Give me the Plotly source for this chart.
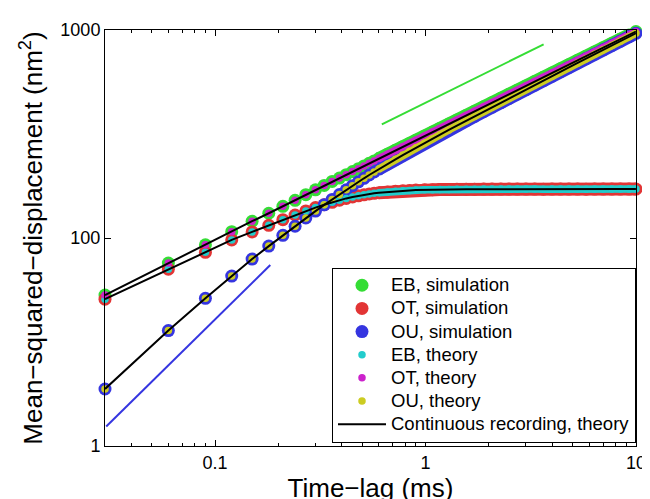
import math
import plotly.graph_objects as go

# ---------------- data ----------------
t_ms = [0.03, 0.06, 0.09, 0.12, 0.15, 0.18, 0.21, 0.24, 0.27, 0.30,
        0.33, 0.36, 0.39, 0.42, 0.45, 0.48, 0.51, 0.54, 0.57, 0.60,
        0.66, 0.72, 0.78, 0.84, 0.90, 0.99, 1.08, 1.17, 1.29, 1.41,
        1.56, 1.71, 1.89, 2.07, 2.28, 2.49, 2.73, 3.00, 3.30, 3.63,
        3.99, 4.38, 4.80, 5.28, 5.79, 6.36, 6.99, 7.68, 8.43, 9.27,
        9.99]

msd_eb = [53.2, 75.8, 92.8, 107.2, 120.4, 131.5, 142.0, 151.8, 161.6, 170.5,
          179.0, 187.0, 194.2, 201.6, 208.6, 215.5, 222.1, 228.5, 234.8, 240.9,
          252.7, 263.9, 274.7, 285.0, 295.0, 309.4, 323.2, 336.4, 353.2, 369.3,
          388.4, 406.7, 427.6, 447.4, 469.6, 490.8, 513.9, 538.7, 565.0, 592.5,
          621.2, 650.9, 681.4, 714.6, 748.3, 784.3, 822.3, 861.9, 903.0, 946.9,
          983.0]

msd_ot = [50.8, 70.8, 85.3, 97.9, 107.0, 115.0, 122.5, 129.0, 135.0, 140.0,
          144.5, 148.5, 152.0, 155.0, 157.5, 159.5, 161.3, 162.8, 164.0, 165.0,
          166.6, 167.8, 168.7, 169.4, 169.9, 170.4, 170.8, 171.1, 171.3, 171.5,
          171.6, 171.7, 171.8, 171.8, 171.9, 171.8, 171.8, 171.9, 171.8, 171.7,
          171.8, 171.9, 171.8, 171.8, 171.7, 171.8, 171.9, 171.8, 171.8, 171.8,
          171.8]

msd_ou = [18.8, 35.9, 51.3, 65.6, 79.2, 91.4, 103.0, 113.9, 124.8, 134.7,
          144.3, 153.3, 161.8, 170.4, 178.4, 186.2, 193.7, 200.9, 207.8, 214.4,
          226.9, 238.8, 250.3, 261.1, 271.4, 286.2, 300.3, 313.9, 331.0, 347.1,
          366.3, 384.7, 405.8, 425.9, 448.0, 469.2, 492.3, 517.2, 543.5, 571.2,
          600.1, 630.1, 661.0, 694.6, 728.1, 764.7, 802.6, 842.9, 884.0, 928.0,
          964.3]

guide_half_t = [0.62, 3.64]      # slope 1/2 guide
guide_half_v = [351.6, 853.0]
guide_one_t = [0.0304, 0.183]    # slope 1 guide
guide_one_v = [12.4, 74.1]

x_tick_vals = [0.1, 1, 10]
x_tick_text = ["0.1", "1", "10"]
x_minor_vals = [0.04, 0.05, 0.06, 0.07, 0.08, 0.09,
                0.2, 0.3, 0.4, 0.5, 0.6, 0.7, 0.8, 0.9,
                2, 3, 4, 5, 6, 7, 8, 9]
y_tick_vals = [10, 100, 1000]
y_tick_text = ["1", "100", "1000"]

# ---------------- styling ----------------
GREEN = "#35dd35"
RED = "#e23535"
BLUE = "#3535e0"
CYAN = "#22cccc"
MAGENTA = "#cc22cc"
YELLOW = "#cccc22"
SIM_SIZE = 13
TH_SIZE = 7.5
BAND_FROM = 19   # from here on the markers merge into a continuous band
FONT = "Liberation Sans, Arial, Helvetica, sans-serif"
LEG_TXT = '<span style="font-size:18.5px">{}</span>'

fig = go.Figure()


def add_markers(t, v, color, size, name):
    # continuous band where the markers overlap completely
    fig.add_trace(go.Scatter(x=t[BAND_FROM:], y=v[BAND_FROM:], mode="lines",
                             line=dict(color=color, width=size),
                             showlegend=False, hoverinfo="skip", cliponaxis=False))
    fig.add_trace(go.Scatter(x=t, y=v, mode="markers",
                             marker=dict(color=color, size=size, line=dict(width=0)),
                             name=LEG_TXT.format(name), cliponaxis=False))


add_markers(t_ms, msd_eb, GREEN, SIM_SIZE, "EB, simulation")
add_markers(t_ms, msd_ot, RED, SIM_SIZE, "OT, simulation")
add_markers(t_ms, msd_ou, BLUE, SIM_SIZE, "OU, simulation")
add_markers(t_ms, msd_ot, CYAN, TH_SIZE, "EB, theory")
add_markers(t_ms, msd_eb, MAGENTA, TH_SIZE, "OT, theory")
add_markers(t_ms, msd_ou, YELLOW, TH_SIZE, "OU, theory")

for i, v in enumerate([msd_eb, msd_ot, msd_ou]):
    fig.add_trace(go.Scatter(x=t_ms, y=v, mode="lines",
                             line=dict(color="black", width=2),
                             name=LEG_TXT.format("Continuous recording, theory"),
                             showlegend=(i == 0), cliponaxis=False))

fig.add_trace(go.Scatter(x=guide_half_t, y=guide_half_v, mode="lines",
                         line=dict(color=GREEN, width=2), showlegend=False))
fig.add_trace(go.Scatter(x=guide_one_t, y=guide_one_v, mode="lines",
                         line=dict(color=BLUE, width=2), showlegend=False))

axis_common = dict(
    type="log", showline=True, linecolor="black", linewidth=1, mirror="ticks",
    ticks="inside", ticklen=6, tickcolor="black", tickwidth=1,
    showgrid=False, zeroline=False,
    tickfont=dict(size=18, color="black", family=FONT),
)

fig.update_layout(
    width=650, height=499,
    margin=dict(l=97, r=13, t=21, b=52),
    paper_bgcolor="white", plot_bgcolor="white",
    font=dict(family=FONT, size=18, color="black"),
    xaxis=dict(
        axis_common,
        range=[math.log10(0.03), 1],
        tickmode="array", tickvals=x_tick_vals, ticktext=x_tick_text,
        minor=dict(tickmode="array", tickvals=x_minor_vals, ticks="inside",
                   ticklen=3, tickcolor="black", showgrid=False),
        title=dict(text="Time\u2212lag (ms)", font=dict(size=26, family=FONT),
                   standoff=4),
    ),
    yaxis=dict(
        axis_common,
        range=[1, 3],
        tickmode="array", tickvals=y_tick_vals, ticktext=y_tick_text,
        title=dict(text="Mean\u2212squared\u2212displacement (nm<sup>2</sup>)",
                   font=dict(size=26, family=FONT), standoff=10),
    ),
    legend=dict(
        x=1, xanchor="right", y=0.008, yanchor="bottom",
        bordercolor="black", borderwidth=1, bgcolor="white",
        font=dict(size=15.5, family=FONT, color="black"),
        itemwidth=48, tracegroupgap=0,
    ),
    showlegend=True,
)

fig.write_html("out.html")
